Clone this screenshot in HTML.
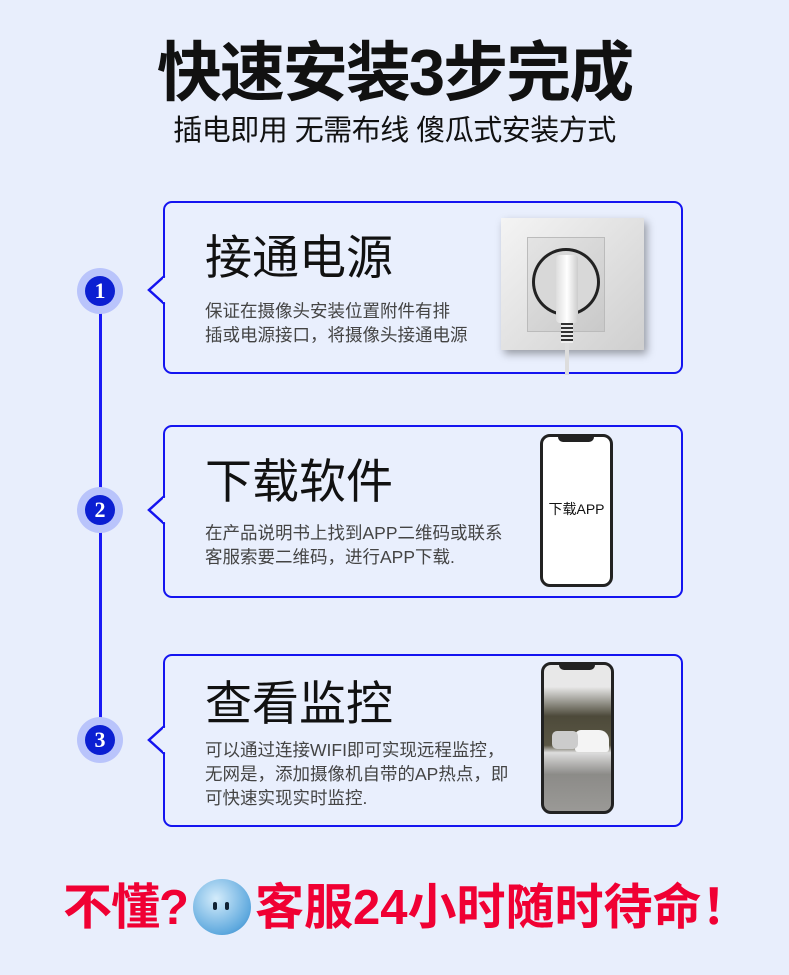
<!DOCTYPE html>
<html><head><meta charset="utf-8"><style>
*{margin:0;padding:0;box-sizing:border-box}
body{width:789px;height:975px;background:#e8eefc;position:relative;overflow:hidden;font-family:"Liberation Sans","Noto Sans CJK SC",sans-serif}
.a{position:absolute}
.title{left:0;width:789px;top:33px;text-align:center;font-size:65px;font-weight:bold;color:#111;line-height:80px;letter-spacing:-2px}
.sub{left:0;width:789px;top:113px;text-align:center;font-size:29px;color:#111;line-height:36px;letter-spacing:-0.5px}
.card{left:163px;width:520px;height:173px;border:2.5px solid #1414f0;border-radius:9px;background:#e9effd}
.ct{left:205px;font-size:47px;color:#111;line-height:56px}
.cb{left:205px;font-size:17.5px;color:#444;line-height:24px}
.halo{width:46px;height:46px;border-radius:50%;background:#b9c4fb}
.num{width:30px;height:30px;border-radius:50%;background:#0b1fd2;color:#fff;font-size:22px;font-weight:bold;text-align:center;line-height:30px;font-family:"Liberation Serif",serif}
.phone{border:3px solid #222;border-radius:10px;background:#fff}
</style></head><body>
<div class="a title">快速安装3步完成</div>
<div class="a sub">插电即用 无需布线 傻瓜式安装方式</div>

<div class="a" style="left:99px;top:290px;width:3px;height:450px;background:#1a1af5"></div>

<div class="a card" style="top:201px"></div>
<div class="a card" style="top:425px"></div>
<div class="a card" style="top:654px"></div>
<svg class="a" style="left:0;top:0" width="789" height="975">
<g fill="#e9effd" stroke="#1414f0" stroke-width="2.5" stroke-linejoin="miter">
<polyline points="164.5,276 149,290 164.5,304"/>
<polyline points="164.5,496 149,510 164.5,524"/>
<polyline points="164.5,726 149,740 164.5,754"/>
</g>
<g fill="#e9effd">
<rect x="163" y="278" width="4" height="24"/>
<rect x="163" y="498" width="4" height="24"/>
<rect x="163" y="728" width="4" height="24"/>
</g>
</svg>

<div class="a halo" style="left:77px;top:268px"></div><div class="a num" style="left:85px;top:276px">1</div>
<div class="a halo" style="left:77px;top:487px"></div><div class="a num" style="left:85px;top:495px">2</div>
<div class="a halo" style="left:77px;top:717px"></div><div class="a num" style="left:85px;top:725px">3</div>

<div class="a ct" style="top:230px">接通电源</div>
<div class="a cb" style="top:299px">保证在摄像头安装位置附件有排<br>插或电源接口，将摄像头接通电源</div>
<div class="a ct" style="top:454px">下载软件</div>
<div class="a cb" style="top:521px">在产品说明书上找到APP二维码或联系<br>客服索要二维码，进行APP下载.</div>
<div class="a ct" style="top:676px">查看监控</div>
<div class="a cb" style="top:738px">可以通过连接WIFI即可实现远程监控，<br>无网是，添加摄像机自带的AP热点，即<br>可快速实现实时监控.</div>

<!-- socket -->
<div class="a" style="left:501px;top:218px;width:143px;height:132px;background:linear-gradient(135deg,#f4f4f4,#cfcfcf);box-shadow:3px 4px 8px rgba(0,0,0,.35)"></div>
<div class="a" style="left:527px;top:237px;width:78px;height:95px;border:1px solid #bbb;background:linear-gradient(135deg,#e4e4e4,#c9c9c9)"></div>
<div class="a" style="left:532px;top:248px;width:68px;height:68px;border-radius:50%;background:#222"></div>
<div class="a" style="left:535px;top:251px;width:62px;height:62px;border-radius:50%;background:#d8d8d8"></div>
<div class="a" style="left:556px;top:255px;width:22px;height:68px;border-radius:4px;background:linear-gradient(90deg,#ddd,#fff,#ccc)"></div>
<div class="a" style="left:561px;top:323px;width:12px;height:20px;background:repeating-linear-gradient(#333 0 2px,#eee 2px 4px)"></div>
<div class="a" style="left:565px;top:343px;width:4px;height:32px;background:#ddd"></div>

<!-- phone 2 -->
<div class="a phone" style="left:540px;top:434px;width:73px;height:153px"></div>
<div class="a" style="left:558px;top:436px;width:36px;height:6px;background:#222;border-radius:0 0 5px 5px"></div>
<div class="a" style="left:540px;top:499px;width:73px;text-align:center;font-size:14px;color:#111">下载APP</div>

<!-- phone 3 -->
<div class="a phone" style="left:541px;top:662px;width:73px;height:152px;background:linear-gradient(#e8e8e8 0,#e8e8e8 15%,#4d4a3a 35%,#5a5644 55%,#ddd 60%,#8c8b88 75%,#9a9996 100%)"></div>
<div class="a" style="left:559px;top:664px;width:36px;height:6px;background:#222;border-radius:0 0 5px 5px"></div>
<div class="a" style="left:575px;top:730px;width:34px;height:22px;background:#f4f4f4;border-radius:6px 10px 3px 3px"></div>
<div class="a" style="left:552px;top:731px;width:26px;height:18px;background:#ccc;border-radius:5px"></div>

<!-- bottom -->
<div class="a" style="left:63px;top:879px;font-size:49px;font-weight:bold;color:#f00033;line-height:58px;letter-spacing:-1px">不懂?</div>
<div class="a" style="left:193px;top:879px;width:58px;height:56px;border-radius:50%;background:radial-gradient(circle at 40% 35%,#d4ecfb,#5fa9de 70%,#2d7cc0)"></div>
<div class="a" style="left:213px;top:902px;width:4px;height:8px;background:#123;border-radius:2px"></div>
<div class="a" style="left:225px;top:902px;width:4px;height:8px;background:#123;border-radius:2px"></div>
<div class="a" style="left:255px;top:879px;font-size:49px;font-weight:bold;color:#f00033;line-height:58px;letter-spacing:0px">客服24小时随时待命！</div>
</body></html>
